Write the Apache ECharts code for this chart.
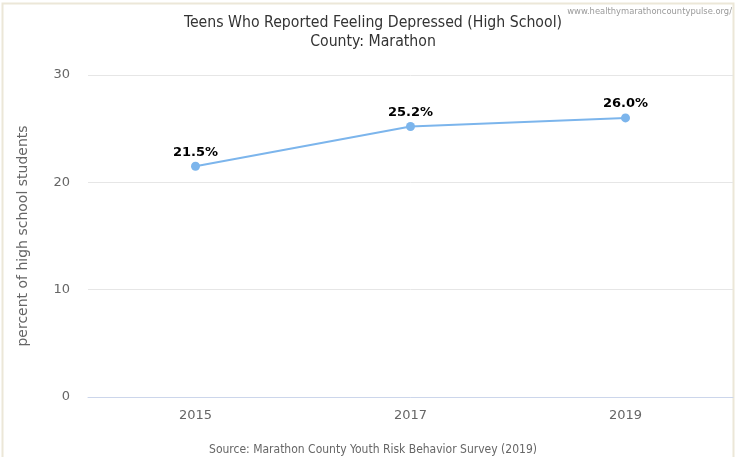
<!DOCTYPE html>
<html>
<head>
<meta charset="utf-8">
<script src="https://cdn.jsdelivr.net/npm/echarts@6/dist/echarts.min.js"></script>
<style>
  html, body { margin: 0; padding: 0; background: #fff; }
  #chart { width: 746px; height: 457px; }
</style>
</head>
<body>
<div id="chart"></div>
<script>
// Survey years and share of high school students reporting depression (%)
const years = ['2015', '2017', '2019'];
const depressedPct = [21.5, 25.2, 26.0];
const yTicks = [0, 10, 20, 30];

const chart = echarts.init(document.getElementById('chart'));

chart.setOption({
  animation: false,
  backgroundColor: '#fff',
  graphic: [
    {
      type: 'rect',
      shape: { x: 2.5, y: 3.5, width: 731, height: 460 },
      style: { fill: 'none', stroke: '#ece7d8', lineWidth: 2 },
      silent: true
    },
    {
      type: 'text',
      right: 14,
      top: 7,
      style: {
        text: 'www.healthymarathoncountypulse.org/',
        fill: '#999',
        font: '9.3px "DejaVu Sans Condensed"'
      }
    },
    {
      type: 'text',
      left: 'center',
      top: 444,
      style: {
        text: 'Source: Marathon County Youth Risk Behavior Survey (2019)',
        fill: '#666',
        font: '12px "DejaVu Sans Condensed"'
      }
    }
  ],
  title: {
    text: 'Teens Who Reported Feeling Depressed (High School)\nCounty: Marathon',
    left: 'center',
    top: 8,
    textStyle: {
      fontFamily: 'DejaVu Sans Condensed',
      fontSize: 15.7,
      fontWeight: 'normal',
      color: '#333',
      lineHeight: 19
    }
  },
  grid: { left: 88, right: 13, top: 75, bottom: 60 },
  xAxis: {
    type: 'category',
    data: years,
    boundaryGap: true,
    axisLine: { show: true, lineStyle: { color: '#ccd6eb', width: 1 } },
    axisTick: { show: false },
    axisLabel: {
      color: '#666',
      fontFamily: 'DejaVu Sans',
      fontSize: 13,
      margin: 12
    }
  },
  yAxis: {
    type: 'value',
    min: yTicks[0],
    max: yTicks[yTicks.length - 1],
    interval: 10,
    name: 'percent of high school students',
    nameLocation: 'middle',
    nameGap: 58,
    nameTextStyle: {
      color: '#666',
      fontFamily: 'DejaVu Sans',
      fontSize: 14
    },
    axisLine: { show: false },
    axisTick: { show: false },
    splitLine: { lineStyle: { color: '#e6e6e6', width: 1 } },
    axisLabel: {
      color: '#666',
      fontFamily: 'DejaVu Sans',
      fontSize: 13,
      margin: 18
    }
  },
  series: [
    {
      type: 'line',
      data: depressedPct,
      symbol: 'circle',
      symbolSize: 9,
      lineStyle: { color: '#7cb5ec', width: 2 },
      itemStyle: { color: '#7cb5ec' },
      label: {
        show: true,
        position: 'top',
        distance: 3,
        formatter: p => p.value.toFixed(1) + '%',
        color: '#000',
        fontFamily: 'DejaVu Sans',
        fontWeight: 'bold',
        fontSize: 13
      }
    }
  ]
});
</script>
</body>
</html>
